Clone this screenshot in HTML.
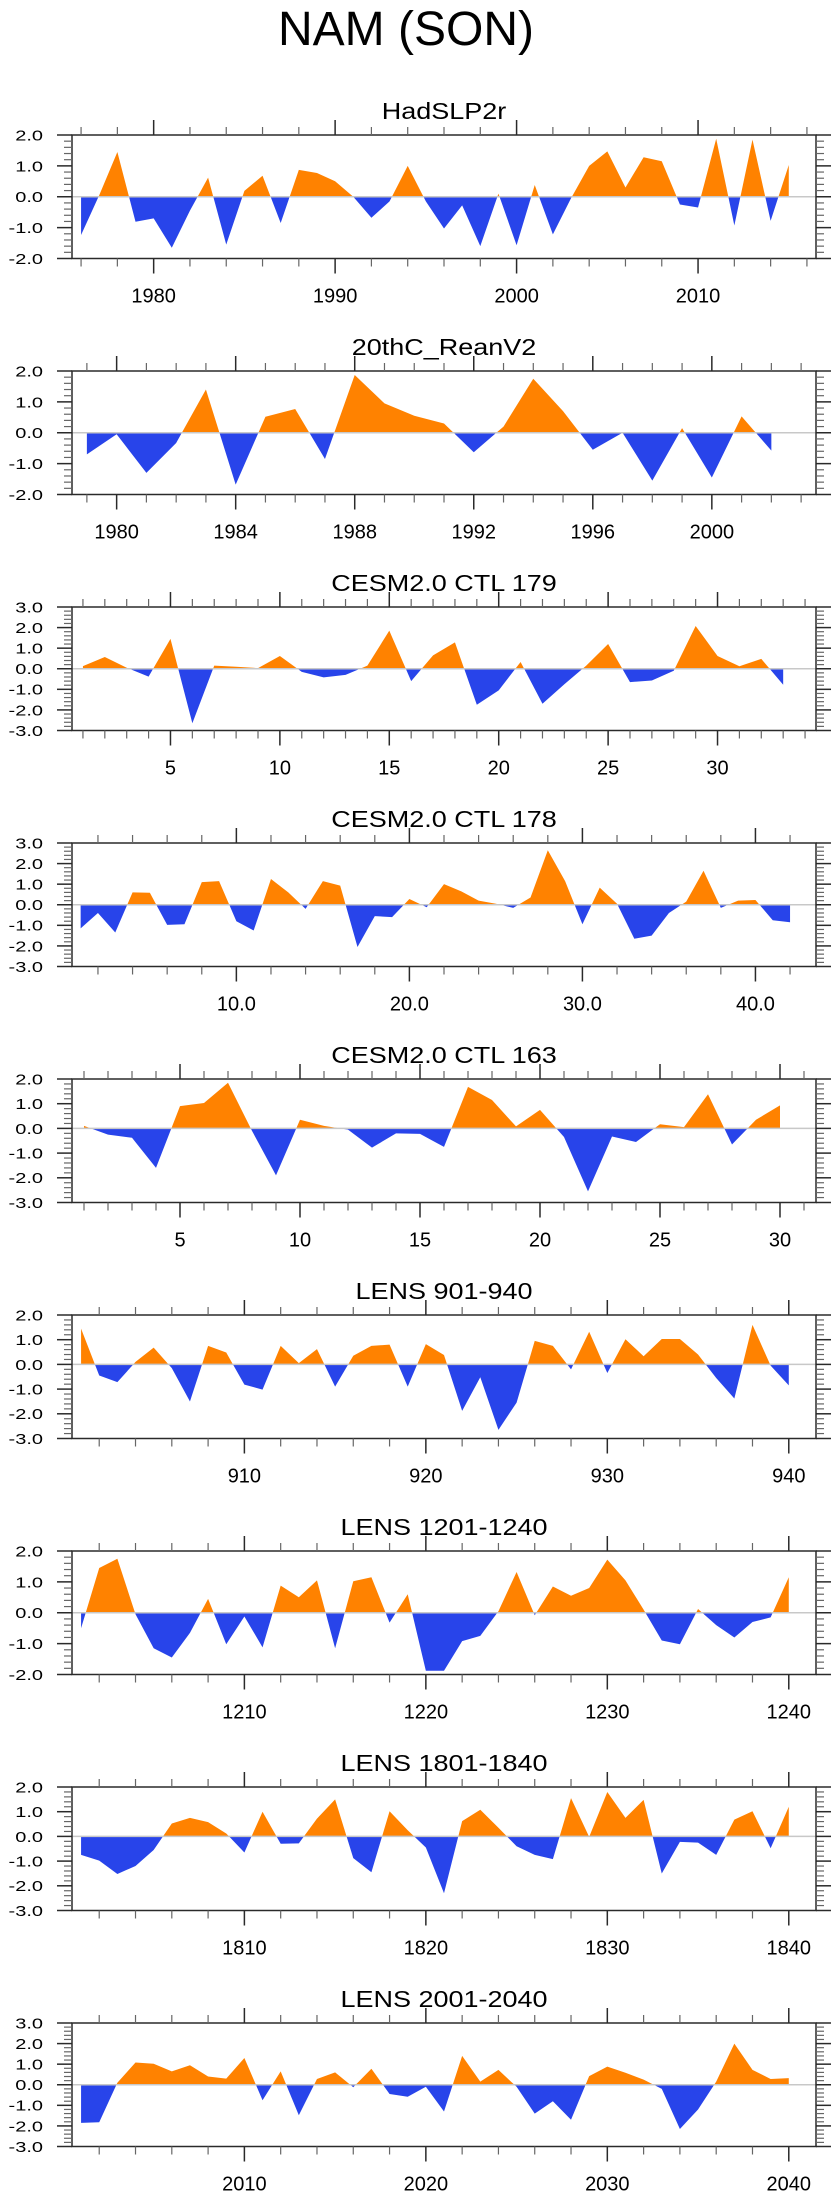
<!DOCTYPE html>
<html><head><meta charset="utf-8"><title>NAM (SON)</title>
<style>html,body{margin:0;padding:0;background:#fff}svg{display:block}text{font-family:"Liberation Sans",Arial,sans-serif;fill:#000}</style>
</head><body>
<svg id="fig" xmlns="http://www.w3.org/2000/svg" width="840" height="2200" viewBox="0 0 840 2200">
<text x="406" y="45" font-size="48" text-anchor="middle">NAM (SON)</text>
</svg>
<script>
// ---- data ----
const hadslpStart = 1976;
const hadslpValues = [-1.24,0.05,1.45,-0.81,-0.70,-1.65,-0.45,0.62,-1.55,0.19,0.68,-0.85,0.87,0.77,0.50,0.0,-0.68,-0.15,1.0,-0.15,-1.03,-0.28,-1.60,0.10,-1.57,0.38,-1.22,-0.05,1.0,1.47,0.30,1.28,1.15,-0.25,-0.35,1.88,-0.93,1.85,-0.78,1.03];
const reanStart = 1979;
const reanValues = [-0.70,-0.05,-1.30,-0.33,1.40,-1.68,0.52,0.77,-0.85,1.87,0.95,0.55,0.30,-0.63,0.20,1.75,0.70,-0.55,0.0,-1.55,0.15,-1.45,0.53,-0.58];
const ctl179Start = 1;
const ctl179Values = [0.13,0.57,0.05,-0.38,1.45,-2.65,0.15,0.10,0.03,0.62,-0.15,-0.42,-0.30,0.15,1.85,-0.60,0.65,1.28,-1.75,-1.05,0.33,-1.70,-0.75,0.15,1.20,-0.65,-0.57,-0.10,2.08,0.62,0.12,0.48,-0.78];
const ctl178Start = 1;
const ctl178Values = [-1.15,-0.40,-1.35,0.60,0.58,-0.98,-0.95,1.10,1.15,-0.80,-1.25,1.25,0.60,-0.20,1.15,0.93,-2.05,-0.55,-0.60,0.28,-0.12,1.00,0.65,0.20,0.05,-0.15,0.35,2.65,1.15,-0.95,0.83,0.05,-1.65,-1.50,-0.40,0.15,1.65,-0.15,0.20,0.23,-0.75,-0.85];
const ctl163Start = 1;
const ctl163Values = [0.10,-0.25,-0.38,-1.60,0.90,1.03,1.85,-0.10,-1.90,0.35,0.10,-0.05,-0.78,-0.20,-0.22,-0.75,1.68,1.15,0.08,0.75,-0.35,-2.55,-0.33,-0.55,0.17,0.05,1.38,-0.65,0.35,0.93];
const lens901Start = 901;
const lens901Values = [1.45,-0.45,-0.72,0.10,0.68,-0.15,-1.50,0.75,0.48,-0.82,-1.02,0.75,0.05,0.62,-0.90,0.35,0.75,0.80,-0.90,0.82,0.38,-1.88,-0.52,-2.65,-1.55,0.95,0.75,-0.20,1.32,-0.35,1.02,0.33,1.03,1.03,0.40,-0.55,-1.38,1.60,-0.05,-0.85];
const lens1201Start = 1201;
const lens1201Values = [-0.50,1.45,1.75,-0.05,-1.15,-1.45,-0.65,0.45,-1.02,-0.12,-1.12,0.88,0.50,1.05,-1.15,1.02,1.15,-0.32,0.60,-1.88,-1.88,-0.92,-0.75,0.05,1.32,-0.08,0.85,0.55,0.80,1.72,1.05,0.10,-0.90,-1.02,0.12,-0.40,-0.80,-0.30,-0.15,1.15];
const lens1801Start = 1801;
const lens1801Values = [-0.75,-0.98,-1.52,-1.20,-0.55,0.52,0.75,0.58,0.12,-0.65,1.00,-0.30,-0.28,0.72,1.50,-0.88,-1.45,1.02,0.25,-0.45,-2.30,0.62,1.08,0.35,-0.40,-0.75,-0.92,1.55,-0.02,1.80,0.75,1.48,-1.50,-0.22,-0.25,-0.75,0.68,1.02,-0.48,1.20];
const lens2001Start = 2001;
const lens2001Values = [-1.85,-1.82,0.10,1.08,1.02,0.65,0.95,0.40,0.30,1.30,-0.75,0.65,-1.48,0.28,0.60,-0.12,0.78,-0.45,-0.58,-0.10,-1.30,1.40,0.15,0.72,-0.10,-1.40,-0.80,-1.70,0.42,0.88,0.58,0.25,-0.20,-2.15,-1.20,0.15,2.00,0.72,0.28,0.32];

const panelTitles = ["HadSLP2r","20thC_ReanV2","CESM2.0 CTL 179","CESM2.0 CTL 178","CESM2.0 CTL 163","LENS 901-940","LENS 1201-1240","LENS 1801-1840","LENS 2001-2040"];
const panelStarts = [hadslpStart,reanStart,ctl179Start,ctl178Start,ctl163Start,lens901Start,lens1201Start,lens1801Start,lens2001Start];
const panelSeries = [hadslpValues,reanValues,ctl179Values,ctl178Values,ctl163Values,lens901Values,lens1201Values,lens1801Values,lens2001Values];
const panelYMin = [-2,-2,-3,-3,-3,-3,-2,-3,-3];
const panelYMax = [2,2,3,3,2,2,2,2,3];
const panelMajorStep = [10,4,5,10,5,10,10,10,10];
const panelMinorStep = [2,1,1,2,1,2,2,2,2];
const panelLabelDecimals = [0,0,0,1,0,0,0,0,0];

// ---- drawing ----
const NS = "http://www.w3.org/2000/svg";
const svg = document.getElementById("fig");
const BOX_L = 72, BOX_R = 816, BOX_H = 123.5;
const ORANGE = "#ff8200", BLUE = "#2844ea", AX = "#2a2a2a";
function mk(tag, attrs, parent){
  const e = document.createElementNS(NS, tag);
  for (const k in attrs) e.setAttribute(k, attrs[k]);
  (parent||svg).appendChild(e);
  return e;
}

for (let p = 0; p < 9; p++) {
  const top = 135 + 236*p, bot = top + BOX_H;
  const vals = panelSeries[p], x0 = panelStarts[p];
  const n = vals.length;
  const dMin = x0 - 0.5, dMax = x0 + n - 1 + 1.5;
  const ymin = panelYMin[p], ymax = panelYMax[p];
  const xs = v => BOX_L + (v - dMin) / (dMax - dMin) * (BOX_R - BOX_L);
  const ys = v => top + (ymax - v) / (ymax - ymin) * BOX_H;

  const g = mk("g", {});
  
  

  const t = mk("text", {transform:`translate(444,${top-16}) scale(1,0.86)`, "font-size":27, "text-anchor":"middle"}, g);
  
  
  t.textContent = panelTitles[p];

  // area path
  const y0 = ys(0);
  let d = `M${xs(x0).toFixed(2)},${y0.toFixed(2)}`;
  for (let i = 0; i < n; i++) d += `L${xs(x0+i).toFixed(2)},${ys(vals[i]).toFixed(2)}`;
  d += `L${xs(x0+n-1).toFixed(2)},${y0.toFixed(2)}Z`;
  const cpA = mk("clipPath", {id:"ca"+p}, g);
  mk("rect", {x:BOX_L, y:top, width:BOX_R-BOX_L, height:y0-top}, cpA);
  const cpB = mk("clipPath", {id:"cb"+p}, g);
  mk("rect", {x:BOX_L, y:y0, width:BOX_R-BOX_L, height:bot-y0}, cpB);
  const pos = mk("path", {d:d, fill:ORANGE, "clip-path":`url(#ca${p})`}, g);
  
  
  const neg = mk("path", {d:d, fill:BLUE, "clip-path":`url(#cb${p})`}, g);
  
  
  const zl = mk("line", {x1:BOX_L, x2:BOX_R, y1:y0, y2:y0, stroke:"#c8c8c8", "stroke-width":1.5}, g);
  
  

  // box
  const box = mk("rect", {x:BOX_L, y:top, width:BOX_R-BOX_L, height:BOX_H, fill:"none", stroke:AX, "stroke-width":1.5}, g);
  
  

  // y ticks
  for (let k = Math.round(ymin*5); k <= Math.round(ymax*5); k++) {
    const v = k/5, y = ys(v), major = (k % 5 === 0);
    const L = major ? 15 : 8;
    mk("line", {x1:BOX_L-L, x2:BOX_L, y1:y, y2:y, stroke:major?AX:"#666", "stroke-width":major?1.5:1.2}, g);
    mk("line", {x1:BOX_R, x2:BOX_R+L, y1:y, y2:y, stroke:major?AX:"#666", "stroke-width":major?1.5:1.2}, g);
    if (major) {
      const lab = mk("text", {transform:`translate(43,${(y+5.4).toFixed(2)}) scale(1,0.74)`, "font-size":20, "text-anchor":"end"}, g);
      
      
      lab.textContent = v.toFixed(1);
    }
  }
  // x ticks
  const ms = panelMinorStep[p], MS = panelMajorStep[p];
  for (let v = Math.ceil(dMin/ms)*ms; v <= dMax; v += ms) {
    const x = xs(v), major = (v % MS === 0);
    const L = major ? 15 : 8;
    mk("line", {x1:x, x2:x, y1:bot, y2:bot+L, stroke:major?AX:"#666", "stroke-width":major?1.5:1.2}, g);
    mk("line", {x1:x, x2:x, y1:top-L, y2:top, stroke:major?AX:"#666", "stroke-width":major?1.5:1.2}, g);
    if (major) {
      const lab = mk("text", {x:x.toFixed(2), y:bot+44, "font-size":20, "text-anchor":"middle"}, g);
      
      
      lab.textContent = v.toFixed(panelLabelDecimals[p]);
    }
  }
}
</script>
</body></html>
